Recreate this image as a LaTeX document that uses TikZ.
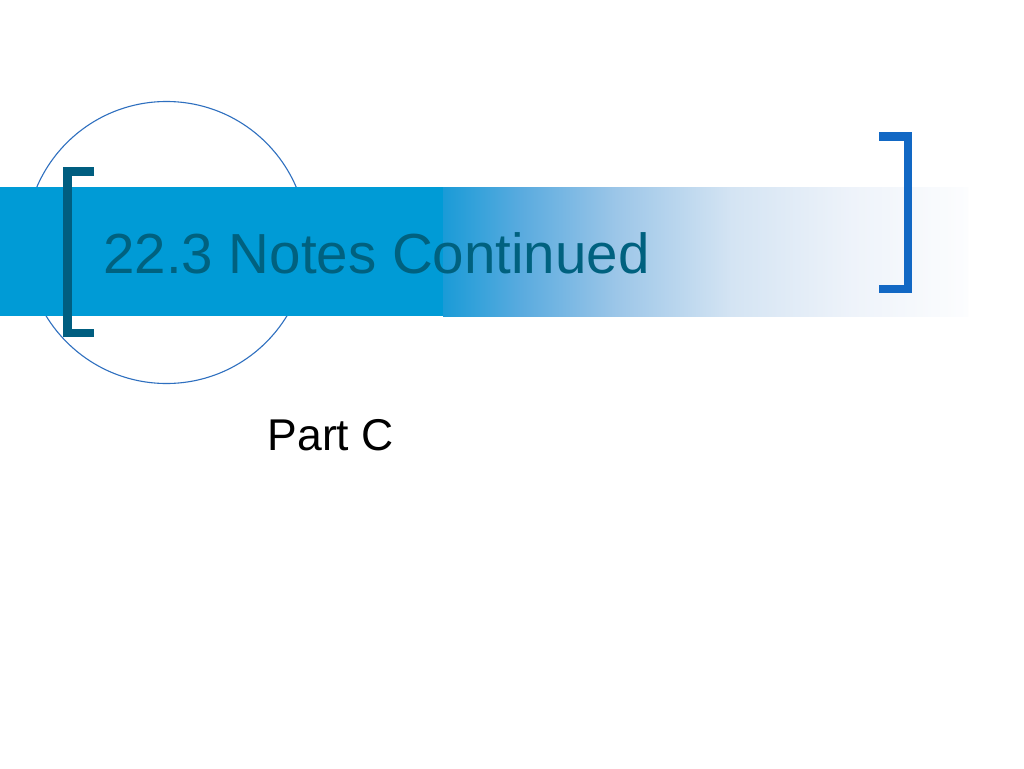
\documentclass[tikz,border=0pt]{standalone}
\usepackage{fontspec}
\setmainfont{Liberation Sans}
\definecolor{bandblue}{HTML}{009BD6}
\definecolor{titleteal}{HTML}{00617F}
\definecolor{brackteal}{HTML}{005E80}
\definecolor{brackblue}{HTML}{1268C4}
\definecolor{circblue}{HTML}{2E6FBF}
\definecolor{g0}{HTML}{1A9BD7}
\definecolor{g1}{HTML}{5AABDF}
\definecolor{g2}{HTML}{9CC6E8}
\definecolor{g3}{HTML}{D4E4F3}
\definecolor{g4}{HTML}{EEF3FA}
\definecolor{g5}{HTML}{FCFDFE}
\pgfdeclarehorizontalshading{bandfade}{100bp}{color(0bp)=(g0); color(25bp)=(g0); color(32.5bp)=(g1); color(41.5bp)=(g2); color(52.5bp)=(g3); color(64bp)=(g4); color(75bp)=(g5); color(100bp)=(g5)}
\tikzset{
  bracketline/.style={line width=8.5pt, line cap=butt, line join=miter},
  titletext/.style={anchor=base west, inner sep=0pt, text=titleteal, font=\fontsize{56.5}{60}\selectfont},
  subtext/.style={anchor=base west, inner sep=0pt, text=black, font=\fontsize{44.5}{50}\selectfont}
}
\begin{document}
\begin{tikzpicture}[x=1pt,y=-1pt]
\useasboundingbox (0,0) rectangle (1024,768);
\fill[white] (0,0) rectangle (1024,768);
% circle
\draw[circblue, line width=1.1pt] (166.5,242.5) circle[radius=141];
% band
\fill[bandblue] (0,187) rectangle (444,316);
\shade[shading=bandfade] (443,187) rectangle (968,316);
% left bracket
\draw[bracketline, brackteal] (94,171.25) -- (67.25,171.25) -- (67.25,332.75) -- (94,332.75);
% right bracket
\draw[bracketline, brackblue] (879,136.25) -- (907.75,136.25) -- (907.75,288.75) -- (879,288.75);
% texts
\node[titletext] (title) at (103,273) {22.3 Notes Continued};
\node[subtext] (sub) at (267.5,450) {Part C};
\end{tikzpicture}
\end{document}
